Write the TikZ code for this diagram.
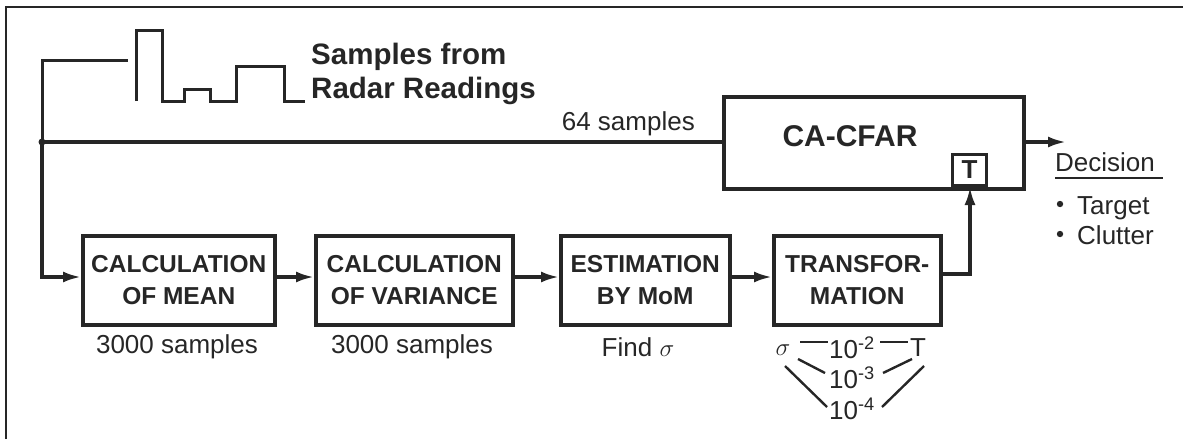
\documentclass[tikz,border=0pt]{standalone}
\usepackage{fontspec}
\setmainfont{Liberation Sans}
\usetikzlibrary{arrows.meta}
\definecolor{ink}{HTML}{262626}
\tikzset{
  blk/.style={draw=ink, line width=3.5pt, fill=white, inner sep=0pt, font=\bfseries\fontsize{24.5}{32}\selectfont, text=ink, align=center},
  lbl/.style={text=ink, font=\fontsize{26}{30}\selectfont, inner sep=0pt},
  wire/.style={draw=ink, line width=3.2pt},
  sig/.style={draw=ink, line width=3pt},
  thin/.style={draw=ink, line width=2.4pt},
  arr/.style={wire, -{Latex[length=18pt,width=11pt]}},
}
\begin{document}
\begin{tikzpicture}[x=1pt,y=-1pt]
\useasboundingbox (0,0) rectangle (1183,439);
% frame
\draw[ink, line width=2pt] (6,439) -- (6,7) -- (1183,7);
% signal
\coordinate (s0) at (42,60);
\coordinate (jn) at (42,142);
\coordinate (bl) at (42,277);
\draw[sig] (jn) -- (s0) -- (128,60);
\draw[sig] (136,101) -- (136,30) -- (162,30) -- (162,101) -- (184,101) -- (184,89) -- (210,89) -- (210,101) -- (236,101) -- (236,66) -- (284,66) -- (284,101) -- (305,101);
\node[text=ink, font=\bfseries\fontsize{29.5}{34}\selectfont, align=left, anchor=north west, inner sep=0pt] (title) at (311,43) {Samples from\\Radar Readings};
% CA-CFAR
\node[blk, minimum width=300pt, minimum height=92pt, anchor=north west] (cfar) at (722,95) {};
\node[text=ink, font=\bfseries\fontsize{30}{34}\selectfont, inner sep=0pt] (cfart) at (850,136) {CA-CFAR};
\node[blk, minimum width=34pt, minimum height=31pt, anchor=south west, font=\bfseries\fontsize{26}{30}\selectfont, line width=3pt] (tb) at (951,187) {T};
\draw[wire] (jn) -- (jn -| cfar.west);
\fill[ink] (jn) circle (3.5pt);
\node[lbl, anchor=base east] (s64) at (695,130) {64 samples};
% decision
\coordinate (dout) at (1066,142);
\draw[arr] (cfar.east |- jn) -- (dout);
\node[lbl, anchor=base west] (dec) at (1055,171) {Decision};
\coordinate (u1) at (1055,178);
\coordinate (u2) at (1163,178);
\draw[ink, line width=2.4pt] (u1) -- (u2);
\node[lbl, anchor=base west] (tg) at (1077,214) {Target};
\node[lbl, anchor=base west] (cl) at (1077,244) {Clutter};
\fill[ink] (1060,204) circle (3.2pt);
\fill[ink] (1060,234) circle (3.2pt);
% bottom chain
\node[blk, minimum width=192pt, minimum height=89pt, anchor=north west] (b1) at (81,234) {CALCULATION\\OF MEAN};
\node[blk, minimum width=197pt, minimum height=89pt, anchor=north west] (b2) at (314,234) {CALCULATION\\OF VARIANCE};
\node[blk, minimum width=169pt, minimum height=89pt, anchor=north west] (b3) at (559,234) {ESTIMATION\\BY MoM};
\node[blk, minimum width=167pt, minimum height=89pt, anchor=north west] (b4) at (772,234) {TRANSFOR-\\MATION};
\draw[arr] (jn) -- (bl) -- (b1.west |- bl);
\draw[arr] (b1.east |- bl) -- (b2.west |- bl);
\draw[arr] (b2.east |- bl) -- (b3.west |- bl);
\draw[arr] (b3.east |- bl) -- (b4.west |- bl);
\coordinate (tc) at (970,274);
\draw[arr] (b4.east |- tc) -- (tc) -- (tb.south -| tc);
\node[lbl] (l1) at (177,347) {3000 samples};
\node[lbl] (l2) at (412,347) {3000 samples};
\node[lbl] (l3) at (638,347) {Find $\sigma$};
% transformation sketch
\node[lbl] (sg) at (783,350) {$\sigma$};
\node[lbl] (e2) at (852,348) {10\textsuperscript{-2}};
\node[lbl] (tt) at (918,348) {T};
\node[lbl] (e3) at (852,378) {10\textsuperscript{-3}};
\node[lbl] (e4) at (852,409) {10\textsuperscript{-4}};
\draw[thin] (800,342) -- (828,342);
\draw[thin] (880,342) -- (908,342);
\draw[thin] (798,359) -- (825,373);
\draw[thin] (883,373) -- (912,359);
\draw[thin] (785,366) -- (827,407);
\draw[thin] (882,407) -- (924,366);
\end{tikzpicture}
\end{document}
